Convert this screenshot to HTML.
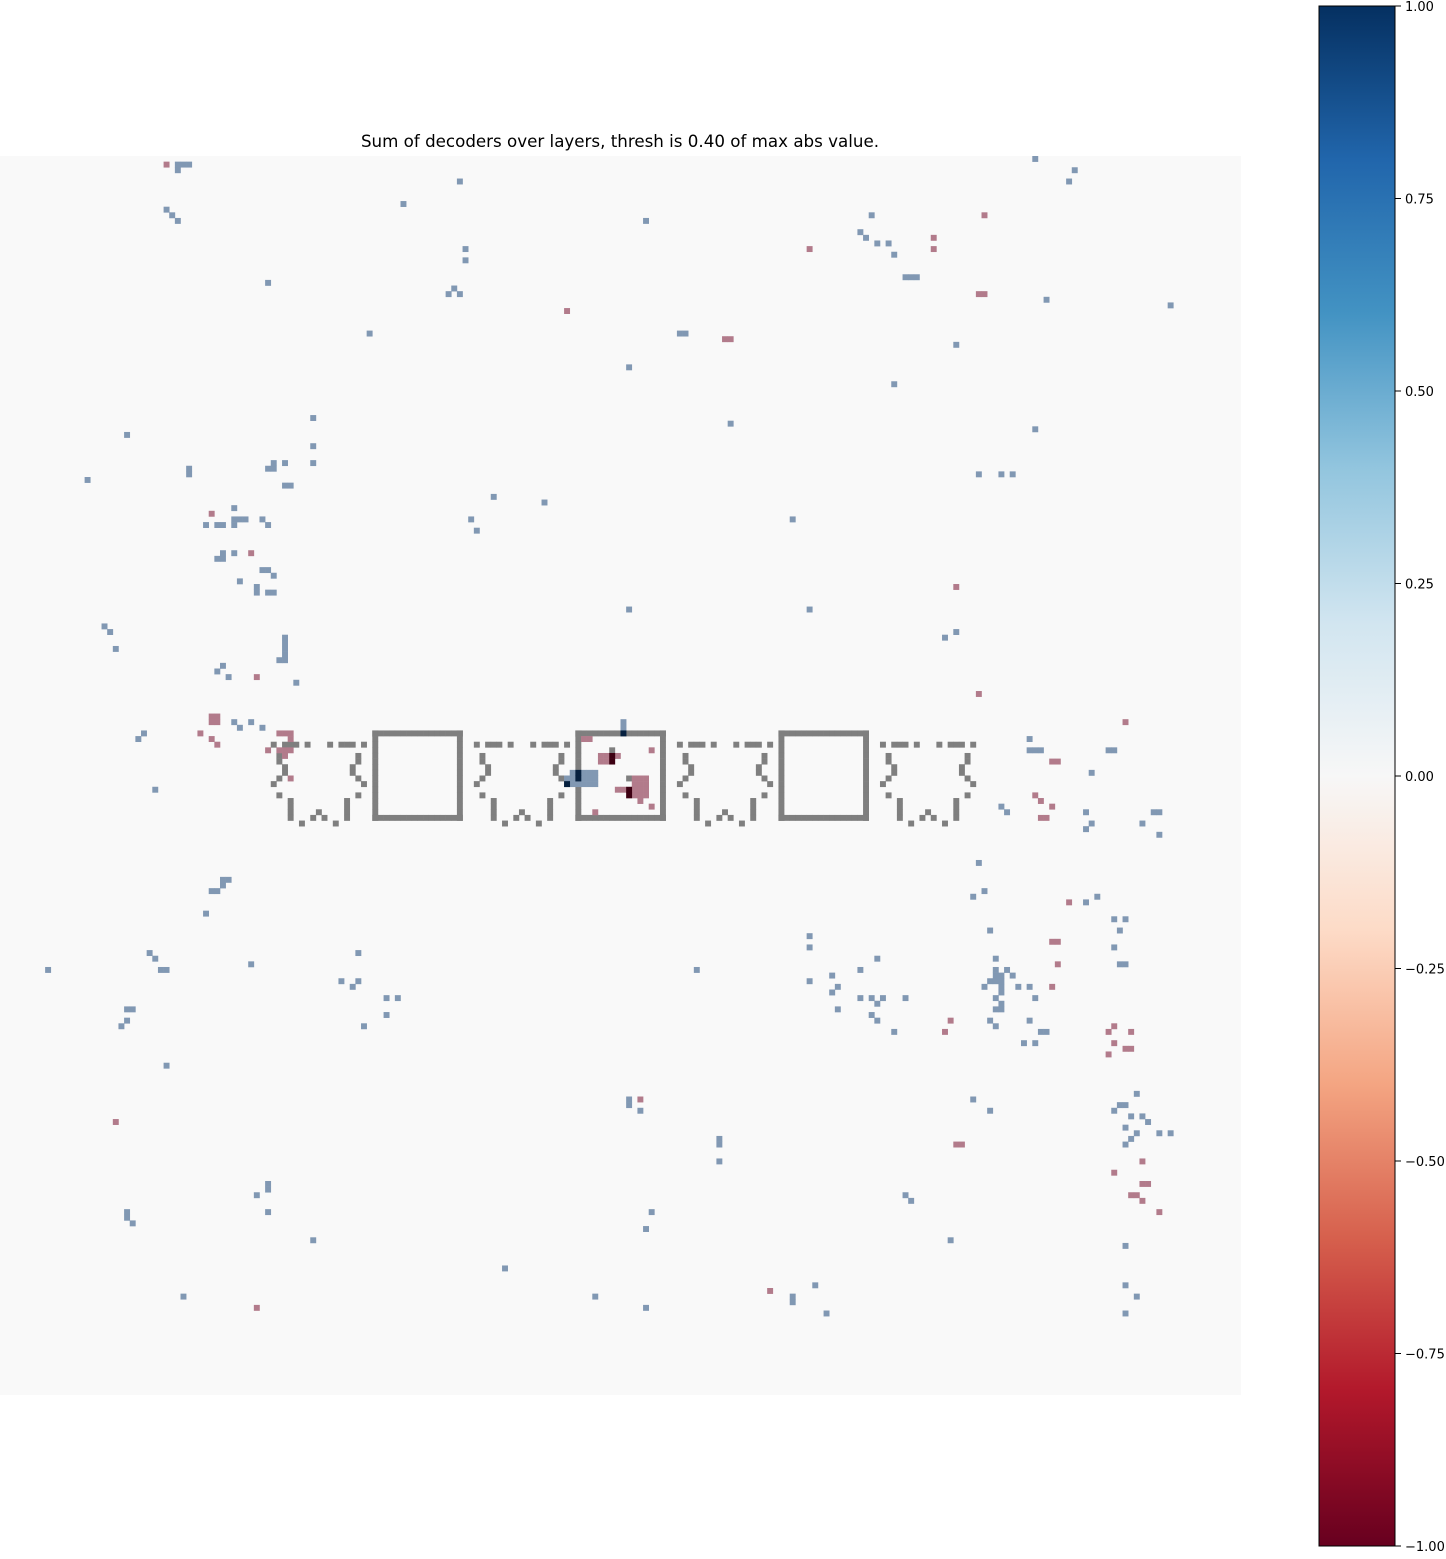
<!DOCTYPE html>
<html><head><meta charset="utf-8"><style>
body{margin:0;background:#fff;width:1446px;height:1554px;overflow:hidden;font-family:"Liberation Sans","DejaVu Sans",sans-serif}
svg text{font-family:"DejaVu Sans","Liberation Sans",sans-serif}
</style></head><body>
<svg id="chart" width="1446" height="1554" xmlns="http://www.w3.org/2000/svg">
<defs>
<linearGradient id="rdbu" x1="0" y1="1" x2="0" y2="0">
<stop offset="0" stop-color="#67001f"/><stop offset="0.1" stop-color="#b2182b"/><stop offset="0.2" stop-color="#d6604d"/><stop offset="0.3" stop-color="#f4a582"/><stop offset="0.4" stop-color="#fddbc7"/><stop offset="0.5" stop-color="#f7f7f7"/><stop offset="0.6" stop-color="#d1e5f0"/><stop offset="0.7" stop-color="#92c5de"/><stop offset="0.8" stop-color="#4393c3"/><stop offset="0.9" stop-color="#2166ac"/><stop offset="1" stop-color="#053061"/>
</linearGradient>
</defs>
<text x="620" y="147" font-size="16.7" text-anchor="middle">Sum of decoders over layers, thresh is 0.40 of max abs value.</text>
<rect x="0" y="156" width="1241" height="1239" fill="#f9f9f9"/>
<g id="cells"></g>
<rect x="1319" y="6" width="76" height="1540" fill="url(#rdbu)" stroke="#000" stroke-width="1"/>
<g id="cbticks"></g>
</svg>
<script>
const N = 220;
const blueCells = [[1,31],[1,32],[1,33],[2,31],[9,29],[10,30],[11,31],[4,81],[8,71],[11,114],[0,183],[2,190],[4,189],[10,154],[13,152],[14,153],[15,155],[15,157],[17,158],[21,160],[21,161],[21,162],[16,82],[18,82],[22,47],[24,79],[23,80],[24,81],[25,185],[26,207],[31,65],[31,120],[31,121],[33,169],[37,111],[40,158],[47,129],[48,183],[46,55],[51,55],[54,55],[49,22],[57,15],[55,33],[56,33],[55,47],[55,48],[54,48],[54,50],[58,50],[58,51],[56,173],[56,177],[56,179],[60,87],[61,96],[64,140],[64,83],[66,84],[62,41],[64,41],[64,42],[64,43],[65,41],[65,38],[65,39],[65,36],[64,46],[65,47],[70,41],[71,38],[71,39],[70,39],[73,46],[73,47],[74,48],[75,42],[76,45],[77,45],[77,47],[77,48],[80,111],[80,143],[84,169],[85,167],[83,18],[84,19],[87,20],[85,50],[86,50],[87,50],[88,50],[89,50],[89,49],[90,39],[91,38],[92,40],[93,52],[100,41],[101,42],[100,44],[101,46],[102,25],[103,24],[112,27],[100,110],[101,110],[105,182],[105,183],[105,184],[103,182],[105,196],[105,197],[109,193],[115,177],[116,178],[116,192],[119,192],[118,193],[116,204],[116,205],[118,202],[120,205],[125,173],[130,174],[131,172],[128,39],[128,40],[129,39],[130,38],[130,37],[134,36],[131,194],[132,192],[135,199],[135,197],[137,198],[140,197],[143,198],[143,199],[138,143],[140,143],[142,155],[137,175],[142,176],[144,176],[146,175],[144,178],[147,177],[145,179],[147,174],[147,180],[147,182],[149,183],[149,176],[151,176],[153,175],[154,176],[153,182],[155,184],[155,185],[157,181],[157,183],[146,143],[145,147],[147,148],[148,147],[144,152],[149,152],[149,154],[150,155],[149,156],[152,154],[153,155],[155,158],[149,160],[151,148],[144,8],[141,26],[142,27],[144,28],[144,29],[143,44],[141,63],[146,60],[147,62],[146,63],[149,68],[149,70],[152,68],[154,64],[151,22],[151,23],[153,22],[154,21],[161,29],[144,123],[168,111],[167,111],[169,113],[174,127],[175,127],[178,127],[167,172],[169,175],[166,201],[168,198],[168,199],[169,197],[170,200],[170,202],[171,203],[172,199],[173,201],[173,205],[173,207],[174,200],[175,199],[182,47],[184,45],[183,47],[187,47],[187,22],[188,22],[189,23],[192,55],[187,115],[190,114],[184,160],[185,161],[192,168],[193,199],[197,89],[202,32],[202,105],[204,114],[202,140],[203,140],[200,144],[205,146],[200,199],[202,201],[205,199],[109,101],[109,103],[109,104],[109,105],[110,100],[110,101],[110,103],[110,104],[110,105],[111,101],[111,102],[111,103],[111,104],[111,105],[150,177],[151,177],[145,176],[146,176],[146,177],[145,177],[148,177]];
const redCells = [[1,29],[10,174],[16,143],[14,165],[16,165],[24,173],[24,174],[27,100],[32,128],[32,129],[63,37],[70,44],[76,169],[92,45],[95,173],[99,37],[99,38],[100,37],[100,38],[102,35],[103,37],[104,38],[102,49],[102,50],[102,51],[103,51],[105,47],[105,49],[105,50],[105,51],[106,50],[110,51],[100,199],[107,186],[107,187],[113,183],[114,184],[115,186],[117,184],[117,185],[132,189],[139,186],[139,187],[143,187],[147,186],[153,168],[155,167],[154,197],[155,196],[155,200],[157,197],[158,199],[158,200],[159,196],[167,113],[171,20],[175,169],[175,170],[180,197],[178,202],[182,202],[182,203],[184,200],[184,201],[185,202],[187,205],[204,45],[201,136],[103,103],[103,104],[105,115],[106,106],[106,107],[107,106],[107,107],[106,109],[110,112],[110,113],[110,114],[111,112],[111,113],[111,114],[112,112],[112,113],[112,114],[113,112],[113,113],[113,114],[112,109],[112,110],[114,113],[115,115],[116,105]];
const darkBlueCells = [[102,110],[109,102],[110,102],[111,100]];
const darkRedCells = [[106,108],[107,108],[112,111],[113,111]];
const boxCols = [66,102,138];
const boxRow = 102;
const glyphCols = [48,84,120,156];
const glyphPattern = [[2,0],[2,2],[2,3],[2,4],[2,6],[2,10],[2,12],[2,13],[2,14],[2,16],[4,1],[5,1],[6,2],[7,2],[8,1],[9,0],[11,1],[12,3],[13,3],[14,3],[15,3],[14,8],[15,7],[15,9],[16,5],[16,11],[4,15],[5,15],[6,14],[7,14],[8,15],[9,16],[11,15],[12,13],[13,13],[14,13],[15,13]];
const extraGray = [[105,108],[110,111]];
const cbTicks = [-1,-0.75,-0.5,-0.25,0,0.25,0.5,0.75,1];

const NS = "http://www.w3.org/2000/svg";
const g = document.getElementById('cells');
const cw = 1241 / N, ch = 1239 / N;
const xs = c => c * cw, ys = r => 156 + r * ch;
function cell(r, c, color, name) {
  const e = document.createElementNS(NS, 'rect');
  e.setAttribute('x', xs(c).toFixed(2)); e.setAttribute('y', ys(r).toFixed(2));
  e.setAttribute('width', (cw + 0.3).toFixed(2)); e.setAttribute('height', (ch + 0.3).toFixed(2));
  e.setAttribute('fill', color);
  
  
  g.appendChild(e);
}
const GRAY = '#7f7f7f';
boxCols.forEach(bc => {
  for (let k = 0; k < 16; k++) {
    cell(boxRow, bc + k, GRAY, 'box-cell');
    cell(boxRow + 15, bc + k, GRAY, 'box-cell');
    cell(boxRow + k, bc, GRAY, 'box-cell');
    cell(boxRow + k, bc + 15, GRAY, 'box-cell');
  }
});
glyphCols.forEach(gc => glyphPattern.forEach(p => cell(boxRow + p[0], gc + p[1], GRAY, 'glyph-cell')));
extraGray.forEach(p => cell(p[0], p[1], GRAY, 'glyph-cell'));
blueCells.forEach(p => cell(p[0], p[1], '#8198b3', 'positive-cell'));
redCells.forEach(p => cell(p[0], p[1], '#b27b8b', 'negative-cell'));
darkBlueCells.forEach(p => cell(p[0], p[1], '#06203f', 'strong-positive-cell'));
darkRedCells.forEach(p => cell(p[0], p[1], '#3d0012', 'strong-negative-cell'));

const t = document.getElementById('cbticks');
const cy = v => 776 - v * 770;
cbTicks.forEach(v => {
  const l = document.createElementNS(NS, 'line');
  l.setAttribute('x1', 1395); l.setAttribute('x2', 1401);
  l.setAttribute('y1', cy(v)); l.setAttribute('y2', cy(v));
  l.setAttribute('stroke', '#000');
  
  
  t.appendChild(l);
  const tx = document.createElementNS(NS, 'text');
  tx.setAttribute('x', 1405); tx.setAttribute('y', cy(v) + 5);
  tx.setAttribute('font-size', '13');
  tx.textContent = (v < 0 ? '\u2212' : '') + Math.abs(v).toFixed(2);
  
  
  t.appendChild(tx);
});
</script>
</body></html>
